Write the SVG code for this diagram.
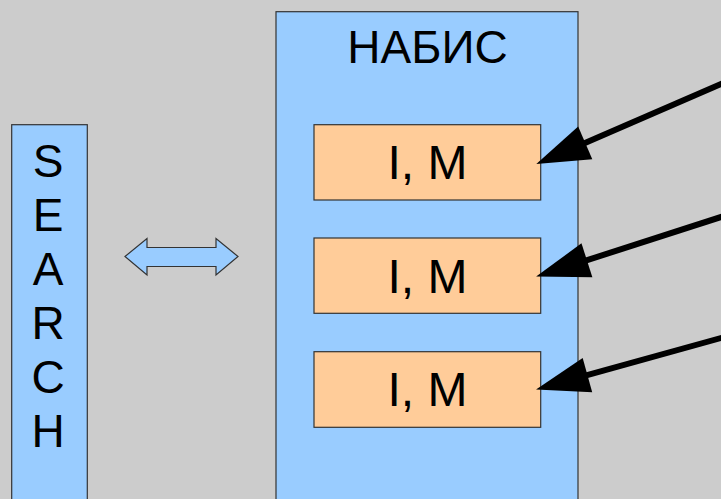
<svg xmlns="http://www.w3.org/2000/svg" width="721" height="499" viewBox="0 0 721 499">
<style>
.blue{fill:#99ccff;stroke:#333333;stroke-width:1.2}
.orange{fill:#ffcc99;stroke:#333333;stroke-width:1.2}
.t{font-family:"Liberation Sans",Arial,sans-serif;font-size:46px;fill:#000;text-anchor:middle}
.conn{stroke:#000;stroke-width:6;fill:none;marker-end:url(#ah)}
</style>
<defs>
<marker id="ah" markerUnits="userSpaceOnUse" markerWidth="60" markerHeight="40" viewBox="-2 -18 54 36" refX="2" refY="0" orient="auto">
<path d="M0,-16 L48,0 L0,16 Z" fill="#000"/>
</marker>
</defs>
<rect width="721" height="499" fill="#cccccc"/>
<g id="search">
<rect class="blue" x="11.7" y="124.7" width="75.6" height="390"/>
<text class="t" x="48" y="177">S</text>
<text class="t" x="48" y="231">E</text>
<text class="t" x="48" y="285">A</text>
<text class="t" x="48" y="339">R</text>
<text class="t" x="48" y="393">C</text>
<text class="t" x="48" y="447">H</text>
</g>
<g id="double-arrow">
<polygon class="blue" points="125,256.5 147,238.5 147,247.5 216,247.5 216,238.5 238,256.5 216,275 216,266.5 147,266.5 147,275"/>
</g>
<g id="nabis">
<rect class="blue" x="276" y="11.7" width="302" height="500"/>
<text class="t" x="427.5" y="63">НАБИС</text>
</g>
<g id="im1">
<rect class="orange" x="314" y="124.7" width="226.7" height="75.3"/>
<text class="t" x="427.5" y="179" style="font-size:48px">I, M</text>
</g>
<g id="im2">
<rect class="orange" x="314" y="238" width="226.7" height="75.3"/>
<text class="t" x="427.5" y="292.5" style="font-size:48px">I, M</text>
</g>
<g id="im3">
<rect class="orange" x="314" y="351.7" width="226.7" height="75.6"/>
<text class="t" x="427.5" y="406" style="font-size:48px">I, M</text>
</g>
<g id="connectors">
<line class="conn" x1="730" y1="80.1" x2="583.2" y2="143.7"/>
<line class="conn" x1="730" y1="214.1" x2="584.8" y2="260.9"/>
<line class="conn" x1="730" y1="335.5" x2="585.3" y2="375.7"/>
</g>
</svg>
